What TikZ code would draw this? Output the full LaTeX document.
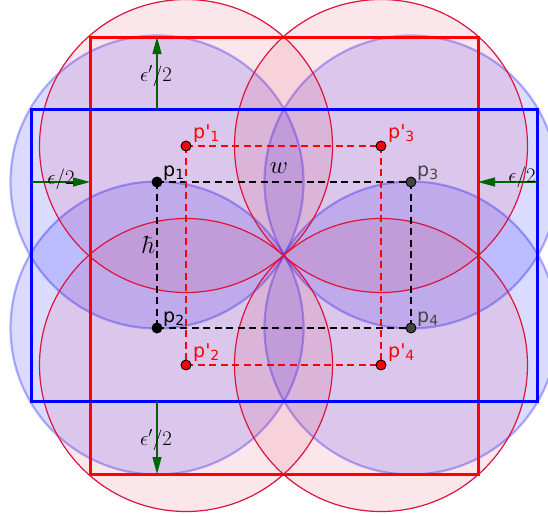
\documentclass[tikz,border=0pt]{standalone}
\usepackage{fontspec}
\newfontfamily\lblfont{DejaVu Sans}
\usetikzlibrary{arrows.meta}
\definecolor{crim}{RGB}{220,20,60}
\definecolor{geored}{RGB}{255,0,0}
\definecolor{geoblue}{RGB}{0,0,255}
\definecolor{darkgr}{RGB}{0,100,0}
\definecolor{dgray}{RGB}{68,68,68}
\newcommand\lsub[1]{\raisebox{-0.35ex}{\fontsize{14}{14}\selectfont #1}}
\tikzset{
  bluecirc/.style={fill=geoblue, fill opacity=0.14, draw=geoblue, draw opacity=0.3, line width=2.2pt},
  redcirc/.style={fill=crim, fill opacity=0.1, draw=crim, line width=1.2pt},
  redrect/.style={draw=geored, line width=3pt},
  bluerect/.style={draw=geoblue, line width=3pt},
  bdash/.style={draw=black, line width=1.2pt, dash pattern=on 7pt off 4.5pt},
  rdash/.style={draw=geored, line width=1.2pt, dash pattern=on 7pt off 4.5pt},
  garrow/.style={draw=darkgr, line width=1.3pt, -{Triangle[length=17pt,width=9pt]}},
  dot/.style={circle, draw=black, line width=0.9pt, minimum size=10pt, inner sep=0pt},
  plbl/.style={anchor=base west, inner sep=0pt, font=\lblfont\fontsize{19}{21}\selectfont},
  mlbl/.style={anchor=base, inner sep=0pt, font=\fontsize{22}{25}\selectfont},
  mbig/.style={anchor=base, inner sep=0pt, font=\fontsize{25}{28}\selectfont},
}
\begin{document}
\begin{tikzpicture}[x=1pt,y=-1pt]
\useasboundingbox (0,0) rectangle (548,515);
% point coordinates
\coordinate (c1) at (157,182);
\coordinate (c2) at (157,328);
\coordinate (c3) at (411,182);
\coordinate (c4) at (411,328);
\coordinate (q1) at (186,146);
\coordinate (q2) at (186,365);
\coordinate (q3) at (381,146);
\coordinate (q4) at (381,365);
% circles
\foreach \c in {c1,c2,c3,c4} \draw[bluecirc] (\c) circle[radius=146.5pt];
\foreach \c in {q1,q2,q3,q4} \draw[redcirc] (\c) circle[radius=146.5pt];
% rectangles
\draw[redrect] (90,37) rectangle (478,474);
\draw[bluerect] (31,109) rectangle (537,401);
% arrows
\coordinate (at0) at (157,109); \coordinate (at1) at (157,37);
\coordinate (ab0) at (157,401); \coordinate (ab1) at (157,474);
\coordinate (al0) at (31,182);  \coordinate (al1) at (90,182);
\coordinate (ar0) at (537,182); \coordinate (ar1) at (478,182);
\draw[garrow] (at0) -- (at1);
\draw[garrow] (ab0) -- (ab1);
\draw[garrow] (al0) -- (al1);
\draw[garrow] (ar0) -- (ar1);
\node[mlbl] (et) at (156,81) {$\epsilon'/2$};
\node[mlbl] (eb) at (156,445) {$\epsilon'/2$};
\node[mlbl] (el) at (61,184) {$\epsilon/2$};
\node[mlbl] (er) at (522,182) {$\epsilon/2$};
% dashed rectangles
\draw[bdash] (c1) -- (c3);
\draw[bdash] (c2) -- (c4);
\draw[bdash] (c1) -- (c2);
\draw[bdash] (c3) -- (c4);
\draw[rdash] (q1) -- (q3);
\draw[rdash] (q2) -- (q4);
\draw[rdash] (q1) -- (q2);
\draw[rdash] (q3) -- (q4);
\node[mbig] (wl) at (279,173) {$w$};
\node[mbig] (hl) at (148.5,253) {$\hbar$};
% points
\node[dot, fill=black] (p1) at (c1) {};
\node[dot, fill=black] (p2) at (c2) {};
\node[dot, fill=dgray] (p3) at (c3) {};
\node[dot, fill=dgray] (p4) at (c4) {};
\node[dot, fill=geored] (pp1) at (q1) {};
\node[dot, fill=geored] (pp2) at (q2) {};
\node[dot, fill=geored] (pp3) at (q3) {};
\node[dot, fill=geored] (pp4) at (q4) {};
% labels
\node[plbl, text=black] (l1) at (163,176) {p\lsub{1}};
\node[plbl, text=black] (l2) at (163,322) {p\lsub{2}};
\node[plbl, text=dgray] (l3) at (417,176) {p\lsub{3}};
\node[plbl, text=dgray] (l4) at (417,322) {p\lsub{4}};
\node[plbl, text=geored] (m1) at (193,138) {p'\lsub{1}};
\node[plbl, text=geored] (m2) at (193,357) {p'\lsub{2}};
\node[plbl, text=geored] (m3) at (388,138) {p'\lsub{3}};
\node[plbl, text=geored] (m4) at (388,357) {p'\lsub{4}};
\end{tikzpicture}
\end{document}
